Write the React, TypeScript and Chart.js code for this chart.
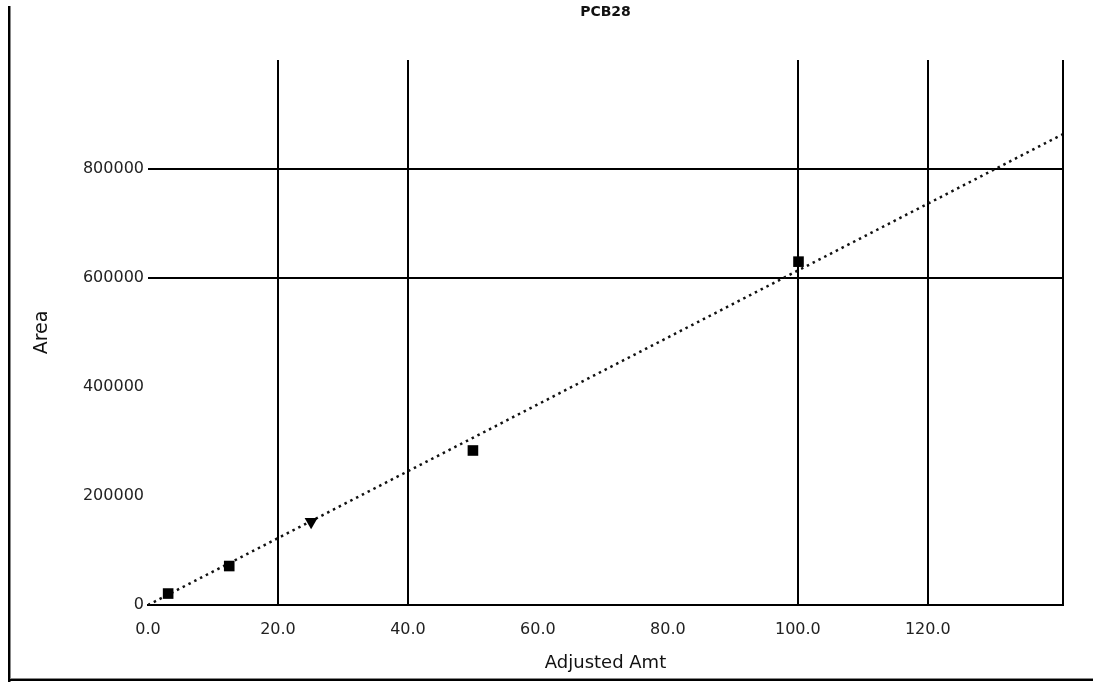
import React, { useEffect, useRef } from "react";
import { Chart, registerables } from "chart.js";

Chart.register(...registerables);

const chartTitle = "PCB28";
const xAxisTitle = "Adjusted Amt";
const yAxisTitle = "Area";

const amounts = [3.1, 12.5, 25.1, 50.0, 100.1];
const areas = [21000, 71500, 152800, 283500, 630000];
const pointShapes = ["rect", "rect", "triangle", "rect", "rect"];
const pointRotations = [0, 0, 180, 0, 0];

const trendX = [0, 140.8];
const trendY = [0, 864000];

const xTicks = [0, 20, 40, 60, 80, 100, 120];
const yTicks = [0, 200000, 400000, 600000, 800000];
const xGridAt = [20, 40, 100, 120];
const yGridAt = [600000, 800000];

const X_MAX = 140.8;
const Y_MAX = 1000000;

const framePlugin = {
  id: "frame",
  afterDraw(chart: any) {
    const { ctx, chartArea } = chart;
    ctx.save();
    ctx.strokeStyle = "#000";
    ctx.lineWidth = 2;
    ctx.beginPath();
    ctx.moveTo(chartArea.right, chartArea.top);
    ctx.lineTo(chartArea.right, chartArea.bottom + 1);
    ctx.stroke();
    ctx.fillStyle = "#000";
    ctx.fillRect(8, 6, 2, 676);
    ctx.fillStyle = "#888";
    ctx.fillRect(10, 6, 1, 676);
    ctx.fillStyle = "#000";
    ctx.fillRect(8, 679, 1085, 2);
    ctx.fillStyle = "#888";
    ctx.fillRect(10, 678, 1083, 1);
    ctx.restore();
  },
};

export default function App() {
  const ref = useRef<HTMLCanvasElement | null>(null);

  useEffect(() => {
    if (!ref.current) return;
    const chart = new Chart(ref.current, {
      type: "scatter",
      data: {
        datasets: [
          {
            type: "line",
            label: "fit",
            data: trendX.map((x, i) => ({ x, y: trendY[i] })),
            borderColor: "#111",
            borderWidth: 2.5,
            borderDash: [2.5, 4],
            pointRadius: 0,
            fill: false,
            order: 2,
          } as any,
          {
            label: "points",
            data: amounts.map((x, i) => ({ x, y: areas[i] })),
            backgroundColor: "#000",
            borderColor: "#000",
            borderWidth: 0,
            pointStyle: pointShapes as any,
            rotation: pointRotations as any,
            pointRadius: 7.5,
            order: 1,
          },
        ],
      },
      options: {
        responsive: false,
        animation: false,
        layout: { padding: { left: 0, right: 30, top: 0, bottom: 0 } },
        plugins: {
          legend: { display: false },
          tooltip: { enabled: false },
          title: {
            display: true,
            text: chartTitle,
            fullSize: false,
            color: "#111",
            font: { family: "DejaVu Sans", size: 14, weight: "bold" },
            padding: { top: 3.6, bottom: 39.6 },
          },
        },
        scales: {
          x: {
            type: "linear",
            min: 0,
            max: X_MAX,
            afterBuildTicks: (scale: any) => {
              scale.ticks = xTicks.map((v) => ({ value: v }));
            },
            afterFit: (scale: any) => {
              scale.height = 77;
            },
            ticks: {
              color: "#222",
              font: { family: "DejaVu Sans", size: 16 },
              padding: 15,
              maxRotation: 0,
              autoSkip: false,
              callback: (v: any) => Number(v).toFixed(1),
            },
            grid: {
              drawTicks: false,
              lineWidth: 2,
              color: (c: any) =>
                c.tick && xGridAt.includes(c.tick.value) ? "#000" : "rgba(0,0,0,0)",
            },
            border: { display: true, color: "#000", width: 2 },
            title: {
              display: true,
              text: xAxisTitle,
              color: "#111",
              font: { family: "DejaVu Sans", size: 18 },
              padding: { top: 0, bottom: 8 },
            },
          },
          y: {
            type: "linear",
            min: 0,
            max: Y_MAX,
            afterBuildTicks: (scale: any) => {
              scale.ticks = yTicks.map((v) => ({ value: v }));
            },
            afterFit: (scale: any) => {
              scale.width = 148;
            },
            ticks: {
              color: "#222",
              font: { family: "DejaVu Sans", size: 16 },
              padding: 4,
              autoSkip: false,
              callback: (v: any) => String(v),
            },
            grid: {
              drawTicks: false,
              lineWidth: 2,
              color: (c: any) =>
                c.tick && yGridAt.includes(c.tick.value) ? "#000" : "rgba(0,0,0,0)",
            },
            border: { display: false },
            title: {
              display: true,
              text: yAxisTitle,
              color: "#111",
              font: { family: "DejaVu Sans", size: 19 },
              padding: { top: 31, bottom: 0 },
            },
          },
        },
      },
      plugins: [framePlugin],
    });
    return () => chart.destroy();
  }, []);

  return (
    <div
      style={{
        position: "fixed",
        left: 0,
        top: 0,
        width: 1093,
        height: 682,
        background: "#fff",
      }}
    >
      <canvas ref={ref} width={1093} height={682} style={{ display: "block" }} />
    </div>
  );
}
